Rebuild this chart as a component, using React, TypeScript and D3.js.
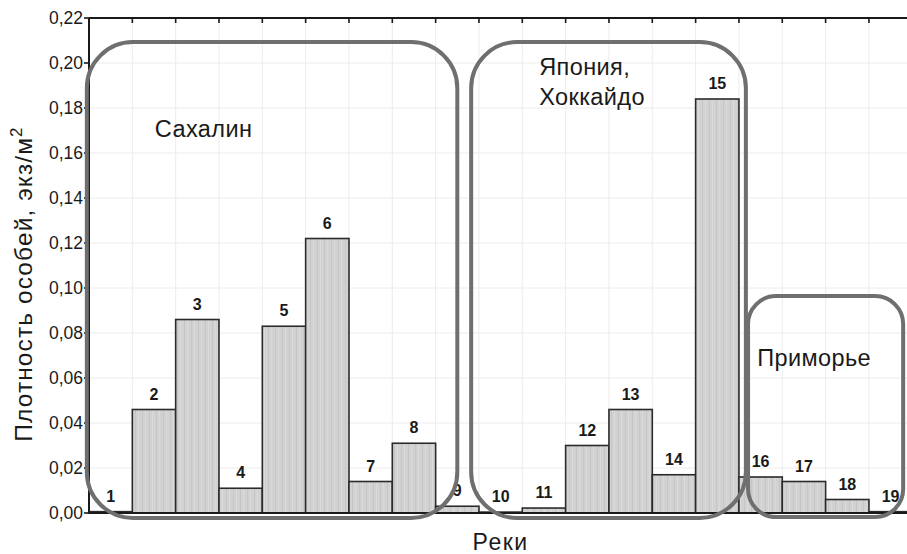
import React from "react";
import * as d3 from "d3";

// Rivers (bar numbers) and population density, ind./m²
const rivers = [1, 2, 3, 4, 5, 6, 7, 8, 9, 10, 11, 12, 13, 14, 15, 16, 17, 18, 19];
const density = [0.0006, 0.046, 0.086, 0.011, 0.083, 0.122, 0.014, 0.031, 0.003, 0.0004, 0.0022, 0.03, 0.046, 0.017, 0.184, 0.016, 0.014, 0.006, 0.0006];
const yTicks = [0, 0.02, 0.04, 0.06, 0.08, 0.1, 0.12, 0.14, 0.16, 0.18, 0.2, 0.22];

// Regional groupings: extents in bar units (0..19) and density units
const regionNames = ["Сахалин", "Япония,|Хоккайдо", "Приморье"];
const regionStart = [-0.05, 8.82, 15.21];
const regionEnd = [8.5, 15.16, 18.79];
const regionTop = [0.2093, 0.2093, 0.0964];
const regionBottom = [-0.0022, -0.0022, -0.0018];
const regionRadius = [46, 46, 28];
const regionLabelPos = [[1.52, 0.1671], [10.39, 0.1947], [15.42, 0.0653]];

const W = 907;
const H = 554;
const left = 89;
const bandW = 43.33;
const right = left + bandW * rivers.length;
const top = 18;
const bottom = 513;

const font = "'Liberation Sans', Arial, Helvetica, sans-serif";

export default function App() {
  const x = d3
    .scaleBand<number>()
    .domain(rivers)
    .range([left, right])
    .padding(0);
  const xu = d3.scaleLinear().domain([0, rivers.length]).range([left, right]);
  const y = d3.scaleLinear().domain([0, 0.22]).range([bottom, top]);
  const fmt = (v: number) => d3.format(".2f")(v).replace(".", ",");
  const edges = d3.range(rivers.length + 1);

  return (
    <svg
      width={W}
      height={H}
      viewBox={`0 0 ${W} ${H}`}
      style={{ position: "absolute", left: 0, top: 0, background: "#fff" }}
      fontFamily={font}
    >
      <defs>
        <pattern id="barFill" width="7" height="10" patternUnits="userSpaceOnUse">
          <rect width="7" height="10" fill="#d2d2d2" />
          <rect x="2" width="1" height="10" fill="#c6c6c6" />
          <rect x="5" width="1" height="10" fill="#dadada" />
        </pattern>
      </defs>

      {/* grid */}
      {yTicks.slice(1).map((t) => (
        <line key={"gy" + t} x1={left} x2={right} y1={y(t)} y2={y(t)} stroke="#ececec" strokeWidth={1} />
      ))}
      {edges.slice(1, -1).map((i) => (
        <line key={"gx" + i} x1={xu(i)} x2={xu(i)} y1={top} y2={bottom} stroke="#ececec" strokeWidth={1} />
      ))}

      {/* bars */}
      {rivers.map((r, i) => (
        <rect
          key={"b" + r}
          x={x(r)}
          y={y(density[i])}
          width={x.bandwidth()}
          height={bottom - y(density[i])}
          fill="url(#barFill)"
          stroke="#2b2b2b"
          strokeWidth={1.6}
        />
      ))}

      {/* bar numbers */}
      {rivers.map((r, i) => (
        <text
          key={"l" + r}
          x={(x(r) as number) + x.bandwidth() / 2}
          y={y(density[i]) - 10}
          textAnchor="middle"
          fontSize={16}
          fontWeight="bold"
          fill="#1a1a1a"
        >
          {r}
        </text>
      ))}

      {/* frame */}
      <line x1={left} x2={right} y1={bottom} y2={bottom} stroke="#1a1a1a" strokeWidth={2.2} />
      <line x1={left} x2={right} y1={top} y2={top} stroke="#1a1a1a" strokeWidth={2} />
      <line x1={left} x2={left} y1={top} y2={bottom} stroke="#1a1a1a" strokeWidth={2} />
      <line x1={right} x2={right} y1={top} y2={bottom} stroke="#1a1a1a" strokeWidth={2} />

      {/* y ticks and labels */}
      {yTicks.map((t) => (
        <g key={"t" + t}>
          <line x1={left - 5} x2={left} y1={y(t)} y2={y(t)} stroke="#1a1a1a" strokeWidth={1.6} />
          <line x1={right - 5} x2={right} y1={y(t)} y2={y(t)} stroke="#1a1a1a" strokeWidth={1.6} />
          <text x={left - 6} y={y(t) + 6} textAnchor="end" fontSize={17.5} fill="#1a1a1a">
            {fmt(t)}
          </text>
        </g>
      ))}
      {/* top ticks at bar boundaries */}
      {edges.slice(1, -1).map((i) => (
        <line key={"tt" + i} x1={xu(i)} x2={xu(i)} y1={top} y2={top + 5} stroke="#1a1a1a" strokeWidth={1.6} />
      ))}

      {/* regional outlines */}
      {regionNames.map((n, i) => {
        const x0 = xu(regionStart[i]);
        const x1 = xu(regionEnd[i]);
        const y0 = y(regionTop[i]);
        const y1 = y(regionBottom[i]);
        return (
          <rect
            key={"reg" + i}
            x={x0}
            y={y0}
            width={x1 - x0}
            height={y1 - y0}
            rx={regionRadius[i]}
            ry={regionRadius[i]}
            fill="none"
            stroke="#6f6f6f"
            strokeWidth={4}
          />
        );
      })}
      {regionNames.map((n, i) => (
        <text
          key={"rn" + i}
          x={xu(regionLabelPos[i][0])}
          y={y(regionLabelPos[i][1])}
          fontSize={23.5}
          letterSpacing={0.4}
          fill="#1a1a1a"
        >
          {n.split("|").map((part, k) => (
            <tspan key={k} x={xu(regionLabelPos[i][0])} dy={k === 0 ? 0 : 30}>
              {part}
            </tspan>
          ))}
        </text>
      ))}

      {/* axis titles */}
      <text
        x={(left + right) / 2}
        y={550}
        textAnchor="middle"
        fontSize={23}
        letterSpacing={1.5}
        fill="#1a1a1a"
      >
        Реки
      </text>
      <text
        transform={`translate(32, 284) rotate(-90)`}
        textAnchor="middle"
        fontSize={24.5}
        letterSpacing={1.1}
        fill="#1a1a1a"
      >
        Плотность особей, экз/м
        <tspan fontSize={17} dy={-10}>
          2
        </tspan>
      </text>
    </svg>
  );
}
